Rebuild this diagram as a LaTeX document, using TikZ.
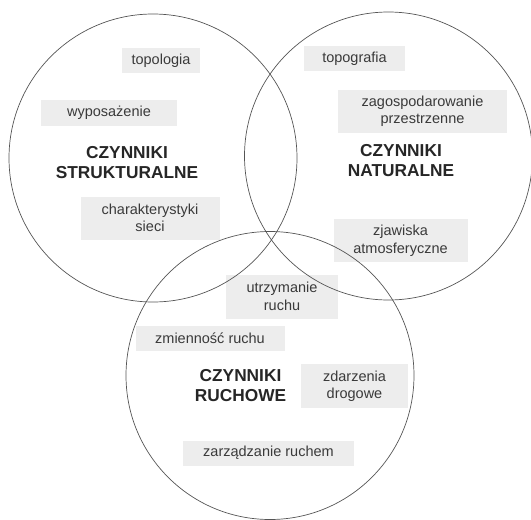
\documentclass[tikz,border=0pt]{standalone}
\usepackage{fontspec}
\setmainfont{Liberation Sans}
\usepackage{tikz}
\usetikzlibrary{positioning}

\definecolor{boxgray}{HTML}{EDEDED}
\definecolor{textgray}{HTML}{3A3A3A}
\definecolor{linegray}{HTML}{555555}

\tikzset{
  factor/.style={fill=boxgray, text=textgray, align=center, inner sep=0pt,
    font=\fontsize{14.5}{17.5}\selectfont},
  group/.style={text=black!85, align=center, inner sep=0pt,
    font=\fontsize{17.3}{20}\selectfont\bfseries},
  area/.style={circle, draw=linegray, line width=0.7pt, minimum size=288pt,
    inner sep=0pt}
}

\begin{document}
\begin{tikzpicture}[x=1pt,y=-1pt]
	\useasboundingbox (0,0) rectangle (531,520);

	% czynniki strukturalne
	\node[factor, minimum width=78, minimum height=25] (topologia) at (161,60.5) {topologia};
	\node[factor, minimum width=136, minimum height=26] (wyposazenie) at (109,113) {wyposażenie};
	\node[factor, minimum width=139, minimum height=43] (charakt) at (150,218) {charakterystyki\\sieci};

	% czynniki naturalne
	\node[factor, minimum width=101, minimum height=25.5] (topografia) at (354.5,58.5) {topografia};
	\node[factor, minimum width=169, minimum height=43] (zagosp) at (422.5,111) {zagospodarowanie\\przestrzenne};
	\node[factor, minimum width=134, minimum height=43] (zjawiska) at (400.5,240.5) {zjawiska\\atmosferyczne};

	% czynniki ruchowe
	\node[factor, minimum width=112, minimum height=44] (utrzymanie) at (282,296.5) {utrzymanie\\ruchu};
	\node[factor, minimum width=149, minimum height=25] (zmiennosc) at (210,338) {zmienność ruchu};
	\node[factor, minimum width=107, minimum height=44] (zdarzenia) at (354.5,386) {zdarzenia\\drogowe};
	\node[factor, minimum width=171, minimum height=25] (zarzadzanie) at (268.5,453) {zarządzanie ruchem};

	\node[group] (strukt) at (127,162.5) {CZYNNIKI\\STRUKTURALNE};
	\node[group] (natur) at (401,161) {CZYNNIKI\\NATURALNE};
	\node[group] (ruch) at (240.5,386) {CZYNNIKI\\RUCHOWE};

	\node[area] (kolo strukt) at (153,158) {};
	\node[area] (kolo natur) at (388.5,156) {};
	\node[area] (kolo ruch) at (270,375.5) {};

\end{tikzpicture}
\end{document}
